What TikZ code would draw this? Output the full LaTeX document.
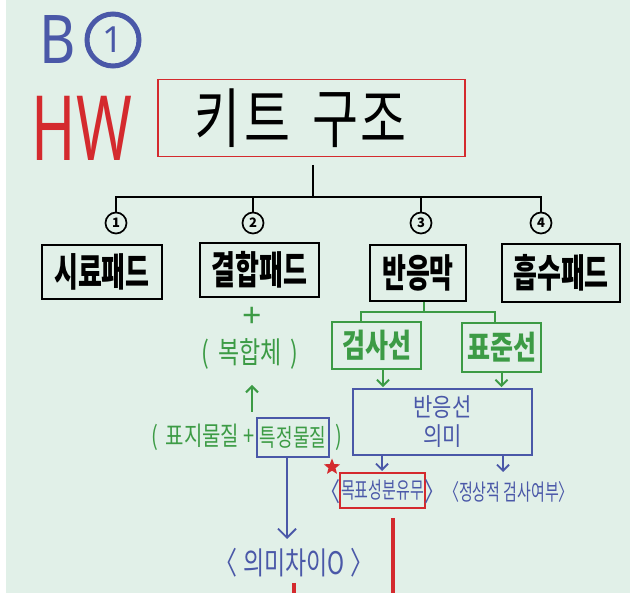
\documentclass[tikz,border=0pt]{standalone}
\usepackage{fontspec}
\setmainfont{Noto Sans CJK KR}
\newfontfamily\latinfont{Noto Sans}
\usetikzlibrary{arrows.meta,shapes.geometric}
\definecolor{bgmint}{HTML}{E1F0E8}
\definecolor{pblue}{HTML}{4A58A8}
\definecolor{pred}{HTML}{D42A2E}
\definecolor{pgreen}{HTML}{3C9B45}
\newcommand{\tallt}[2]{\scalebox{1}[#1]{#2}}
\tikzset{
  padbox/.style={draw=black,line width=2.2pt,inner sep=0pt,font=\fontsize{26}{26}\selectfont\bfseries},
  numc/.style={circle,draw=black,line width=1.7pt,minimum size=21pt,inner sep=0pt,font=\fontsize{13}{13}\selectfont\bfseries},
  conn/.style={line width=2pt,draw=black},
  gconn/.style={line width=2pt,draw=pgreen},
  garrow/.style={line width=2pt,draw=pgreen,-{Straight Barb[length=6pt,width=12pt,line width=2pt]}},
  barrow/.style={line width=1.8pt,draw=pblue,-{Straight Barb[length=6pt,width=12pt,line width=1.8pt]}},
  gbox/.style={draw=pgreen,line width=1.8pt,inner sep=0pt,text=pgreen,font=\fontsize{25}{25}\selectfont\bfseries},
  gtext/.style={text=pgreen,inner sep=0pt,font=\fontsize{20}{20}\selectfont},
  btext/.style={text=pblue,inner sep=0pt,font=\fontsize{15}{15}\selectfont},
  redline/.style={draw=pred,line width=4pt},
}
\begin{document}
\begin{tikzpicture}[x=1pt,y=-1pt]
\fill[white] (0,0) rectangle (630,593);
\fill[bgmint] (6,0) rectangle (630,593);
\useasboundingbox (0,0) rectangle (630,593);

% corner marks
\node[text=pblue,inner sep=0pt,font=\latinfont\fontsize{56}{56}\selectfont\bfseries] (bmark) at (58,40) {\tallt{1.2}{B}};
\node[circle,draw=pblue,line width=5pt,minimum size=52pt,inner sep=0pt,text=pblue,font=\latinfont\fontsize{36}{36}\selectfont\bfseries] (onemark) at (113,40) {1};
\node[text=pred,inner sep=0pt,font=\latinfont\fontsize{60}{60}\selectfont] (hw) at (82,128) {\tallt{1.5}{HW}};

% title
\node[draw=pred,line width=1.5pt,minimum width=307pt,minimum height=77pt,inner sep=0pt,font=\fontsize{50}{50}\selectfont] (title) at (311.5,118) {\hspace*{-22pt}\raisebox{-5pt}{\tallt{1.3}{키\hspace{4pt}트\hspace{22pt}구\hspace{2pt}조}}};

% numbered circles
\node[numc] (c1) at (116,223) {1};
\node[numc] (c2) at (253,223) {2};
\node[numc] (c3) at (421,223) {3};
\node[numc] (c4) at (541,223) {4};

\coordinate (tdrop) at (313,165);
\coordinate (hub) at (313,197);
\draw[conn] (tdrop) -- (hub);
\draw[conn] (c1.north) |- (hub) -| (c4.north);
\draw[conn] (c2.north) -- (c2.north |- hub);
\draw[conn] (c3.north) -- (c3.north |- hub);

% pads
\node[padbox,minimum width=120pt,minimum height=54pt] (sr) at (102,272) {\tallt{1.5}{시료패드}};
\node[padbox,minimum width=119pt,minimum height=54pt] (gh) at (259.5,270) {\tallt{1.5}{결합패드}};
\node[padbox,minimum width=96pt,minimum height=56pt] (bm) at (418,273) {\tallt{1.5}{반응막}};
\node[padbox,minimum width=118pt,minimum height=58pt] (hs) at (561,273) {\tallt{1.5}{흡수패드}};

% green complex part
\node[text=pgreen,inner sep=0pt,text height=11pt,text depth=0pt,font=\latinfont\fontsize{34}{34}\selectfont\bfseries] (plus) at (252,322) {+};
\node[gtext,font=\fontsize{23}{23}\selectfont] (bokhap) at (250,354) {\tallt{1.3}{(\, 복합체 \,)}};
\node[gtext,anchor=east] (pyoji) at (255,437) {\tallt{1.3}{(\, 표지물질 +}};
\node[draw=pblue,line width=1.8pt,minimum width=72pt,minimum height=39pt,gtext,font=\fontsize{18}{18}\selectfont] (tj) at (293,437.5) {\tallt{1.35}{특정물질}};
\node[gtext,anchor=west] (pyojiend) at (335,437) {\tallt{1.3}{)}};
\coordinate (upbot) at (252,412);
\coordinate (uptop) at (252,385);
\draw[garrow] (upbot) -- (uptop);

% green split from reaction membrane
\coordinate (gsplit) at (424,312);
\coordinate (gl) at (361,312);
\coordinate (gr) at (495,312);
\node[gbox,minimum width=89pt,minimum height=47pt] (gs) at (376.5,345.5) {\tallt{1.3}{검사선}};
\node[gbox,minimum width=79pt,minimum height=49pt] (pj) at (501.5,347.5) {\tallt{1.3}{표준선}};
\draw[gconn] (gsplit |- bm.south) -- (gsplit);
\draw[gconn] (gl |- gs.north) -- (gl) -- (gr) -- (gr |- pj.north);

% meaning box
\node[draw=pblue,line width=1.8pt,minimum width=179pt,minimum height=66pt,text=pblue,align=center,inner sep=0pt,font=\fontsize{21}{29}\selectfont] (mean) at (442.5,422) {\tallt{1.2}{반응선}\\\tallt{1.2}{의미}};
\draw[garrow,shorten >=1pt] ([xshift=6.5pt]gs.south) -- ([xshift=6.5pt]gs.south |- mean.north);
\draw[garrow,shorten >=1pt] (pj.south) -- (pj.south |- mean.north);

% results
\node[draw=pred,line width=2pt,minimum width=85pt,minimum height=35pt,btext] (mp) at (382.5,490.5) {\tallt{1.5}{목표성분유무}};
\node[btext,anchor=east,font=\fontsize{20}{20}\selectfont] (mpl) at (341,492) {\tallt{1.3}{〈}};
\node[btext,anchor=west,font=\fontsize{20}{20}\selectfont] (mpr) at (424,492) {\tallt{1.3}{〉}};
\node[btext] (jeong) at (509,492) {\tallt{1.5}{〈정상적 검사여부〉}};
\draw[barrow,shorten >=1pt] ([xshift=-0.5pt]mp.north |- mean.south) -- ([xshift=-0.5pt]mp.north);
\coordinate (jtop) at (503,472);
\draw[barrow] (jtop |- mean.south) -- (jtop);

\node[star,star points=5,star point ratio=2.3,fill=pred,minimum size=17pt,inner sep=0pt] (starmark) at (332,467) {};

% difference
\node[text=pblue,inner sep=0pt,font=\fontsize{23}{23}\selectfont] (uimi) at (294,563) {\tallt{1.35}{〈 의미차이O 〉}};
\draw[line width=1.8pt,draw=pblue,-{Straight Barb[length=9pt,width=18pt,line width=1.8pt]}] ([xshift=-6pt]tj.south) -- ([xshift=-6pt]tj.south |- 0,539);

% red lines running off the bottom
\coordinate (r1top) at (393,518);
\coordinate (r2top) at (294,583);
\draw[redline] (r1top) -- (r1top |- 0,600);
\draw[redline] (r2top) -- (r2top |- 0,600);
\end{tikzpicture}
\end{document}
